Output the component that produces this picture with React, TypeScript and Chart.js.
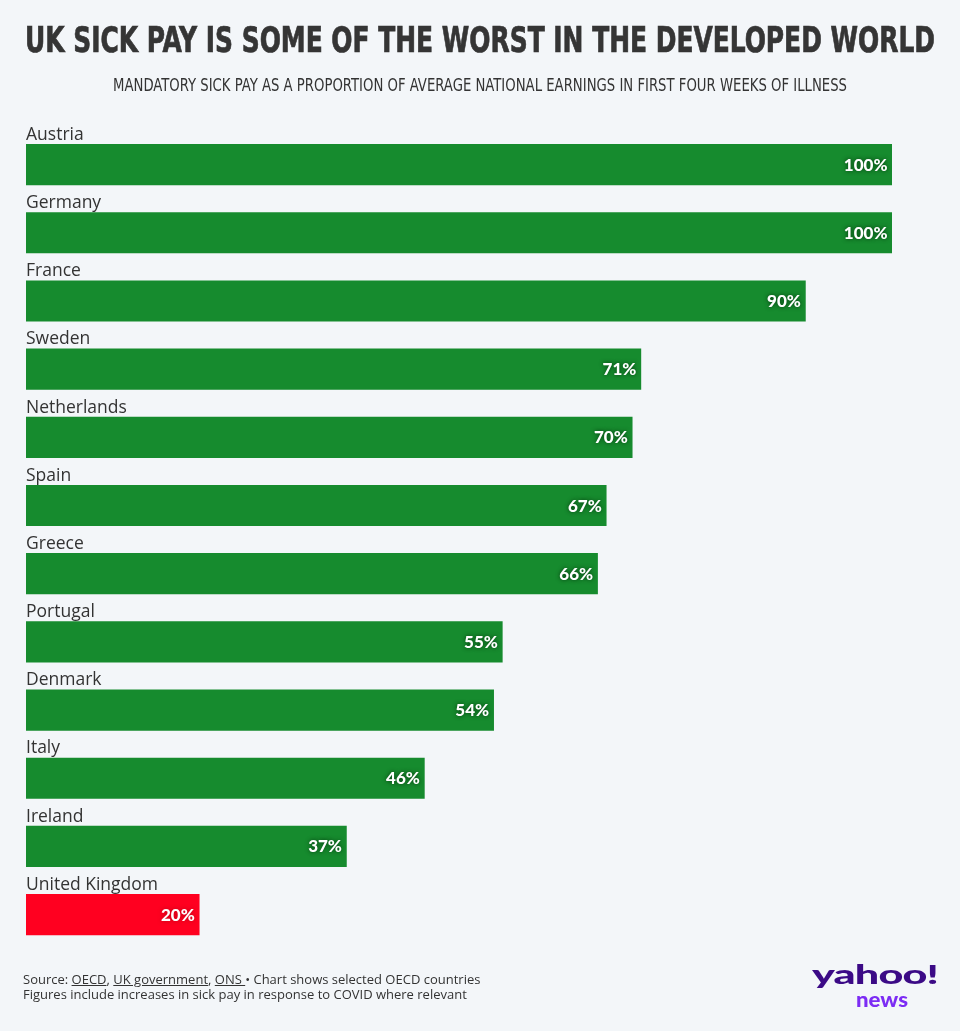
import React, { useEffect, useLayoutEffect, useRef } from "react";
import { Chart, registerables } from "chart.js";

Chart.register(...registerables);

const countries = [
  "Austria",
  "Germany",
  "France",
  "Sweden",
  "Netherlands",
  "Spain",
  "Greece",
  "Portugal",
  "Denmark",
  "Italy",
  "Ireland",
  "United Kingdom",
];
const sickPayPct = [100, 100, 90, 71, 70, 67, 66, 55, 54, 46, 37, 20];
const highlight = "United Kingdom";

const GREEN = "#168b2e";
const RED = "#ff0020";
const BG = "#f3f6f9";
const TEXT = "#333333";

const W = 960;
const H = 1031;

const labelsPlugin = {
  id: "barLabels",
  afterDatasetsDraw(chart: any) {
    const ctx = chart.ctx;
    const meta = chart.getDatasetMeta(0);
    ctx.save();
    meta.data.forEach((bar: any, i: number) => {
      const props = bar.getProps(["x", "y", "base", "height"], true);
      const top = props.y - props.height / 2;
      ctx.shadowColor = "transparent";
      ctx.shadowBlur = 0;
      ctx.fillStyle = TEXT;
      ctx.font = "17.5px 'Open Sans', 'Noto Sans', sans-serif";
      ctx.textAlign = "left";
      ctx.textBaseline = "alphabetic";
      ctx.fillText(chart.data.labels[i], chart.chartArea.left, top - 4.5);
      const isHi = chart.data.labels[i] === highlight;
      ctx.font = "900 17px Lato, 'Open Sans', sans-serif";
      ctx.textAlign = "right";
      ctx.shadowColor = isHi ? "rgba(120,0,10,0.5)" : "rgba(0,45,10,0.9)";
      ctx.shadowBlur = 4;
      ctx.fillStyle = "#ffffff";
      ctx.fillText(chart.data.datasets[0].data[i] + "%", props.x - 4.5, props.y + 6);
    });
    ctx.restore();
  },
};

export default function App() {
  const canvasRef = useRef<HTMLCanvasElement | null>(null);
  const rootRef = useRef<HTMLDivElement | null>(null);

  useLayoutEffect(() => {
    const fit = () => {
      if (!rootRef.current) return;
      const els = rootRef.current.querySelectorAll<HTMLElement>("[data-fit]");
      els.forEach((el) => {
        el.style.transform = "none";
        const target = parseFloat(el.dataset.fit || "0");
        const w = el.getBoundingClientRect().width;
        if (w > 0) el.style.transform = `scaleX(${target / w})`;
      });
    };
    fit();
    if ((document as any).fonts && (document as any).fonts.ready) {
      (document as any).fonts.ready.then(fit);
    }
  }, []);

  useEffect(() => {
    document.body.style.margin = "0";
    document.body.style.background = BG;
    const canvas = canvasRef.current;
    if (!canvas) return;
    const chart = new Chart(canvas, {
      type: "bar",
      data: {
        labels: countries,
        datasets: [
          {
            data: sickPayPct,
            backgroundColor: countries.map((c) => (c === highlight ? RED : GREEN)),
            barThickness: 40.5,
            borderWidth: 0,
          },
        ],
      },
      options: {
        indexAxis: "y",
        animation: false,
        responsive: false,
        devicePixelRatio: 1,
        layout: {
          padding: { left: 26, right: 68, top: 130.5, bottom: 82.3 },
        },
        scales: {
          x: { display: false, min: 0, max: 100 },
          y: { display: false, offset: true, grid: { display: false } },
        },
        plugins: {
          legend: { display: false },
          tooltip: { enabled: false },
        },
      },
      plugins: [labelsPlugin],
    });
    return () => chart.destroy();
  }, []);

  const fitStyle: React.CSSProperties = {
    position: "absolute",
    whiteSpace: "nowrap",
    transformOrigin: "left top",
    display: "inline-block",
  };

  return (
    <div
      ref={rootRef}
      style={{
        position: "relative",
        width: W,
        height: H,
        background: BG,
        overflow: "hidden",
        color: TEXT,
      }}
    >
      <canvas
        ref={canvasRef}
        width={W}
        height={H}
        style={{ position: "absolute", left: 0, top: 0, width: W, height: H }}
      />
      <div
        data-fit="910"
        style={{
          ...fitStyle,
          left: 25,
          top: 23,
          fontFamily: "'Liberation Sans Narrow', 'DejaVu Sans Condensed', 'Roboto', sans-serif",
          fontWeight: 700,
          fontSize: 35,
          lineHeight: "35px",
          color: "#353535",
          WebkitTextStroke: "0.7px #353535",
        }}
      >
        UK SICK PAY IS SOME OF THE WORST IN THE DEVELOPED WORLD
      </div>
      <div
        data-fit="734"
        style={{
          ...fitStyle,
          left: 113,
          top: 75.8,
          fontFamily: "'Liberation Sans Narrow', 'DejaVu Sans Condensed', 'Roboto', sans-serif",
          fontWeight: 400,
          fontSize: 18,
          lineHeight: "18px",
          color: TEXT,
        }}
      >
        MANDATORY SICK PAY AS A PROPORTION OF AVERAGE NATIONAL EARNINGS IN FIRST FOUR WEEKS OF ILLNESS
      </div>
      <div
        style={{
          position: "absolute",
          left: 23,
          top: 971.5,
          fontFamily: "'Open Sans', 'Noto Sans', sans-serif",
          fontSize: 13,
          lineHeight: "15px",
          color: TEXT,
          whiteSpace: "nowrap",
        }}
      >
        <div>
          Source: <span style={{ textDecoration: "underline" }}>OECD</span>,{" "}
          <span style={{ textDecoration: "underline" }}>UK government</span>,{" "}
          <span style={{ textDecoration: "underline" }}>ONS </span>• Chart shows selected OECD countries
        </div>
        <div>Figures include increases in sick pay in response to COVID where relevant</div>
      </div>
      <div
        data-fit="126"
        style={{
          ...fitStyle,
          left: 812,
          top: 961,
          fontFamily: "Lato, 'Open Sans', sans-serif",
          fontWeight: 900,
          fontSize: 26,
          lineHeight: "26px",
          color: "#3b0a86",
          letterSpacing: -0.5,
        }}
      >
        yahoo!
      </div>
      <div
        data-fit="52"
        style={{
          ...fitStyle,
          left: 856,
          top: 989.3,
          fontFamily: "Lato, 'Open Sans', sans-serif",
          fontWeight: 900,
          fontSize: 20,
          lineHeight: "20px",
          color: "#7c2cf4",
        }}
      >
        news
      </div>
    </div>
  );
}
